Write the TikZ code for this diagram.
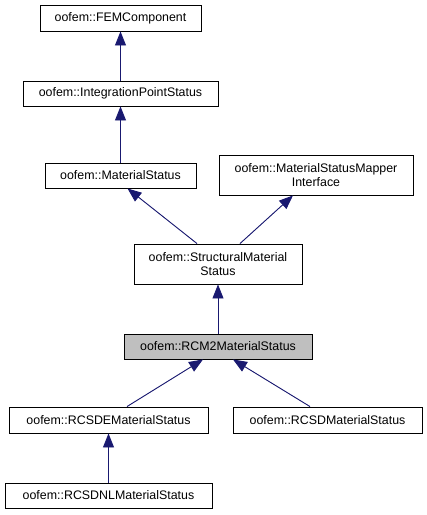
\documentclass[tikz,border=0pt]{standalone}
\usepackage{fontspec}
\setmainfont{Liberation Sans}
\usetikzlibrary{arrows.meta,calc}
\definecolor{edgeblue}{HTML}{191970}
\begin{document}
\begin{tikzpicture}[x=1pt,y=-1pt,
  cls/.style={draw=black,line width=0.9pt,fill=white,inner sep=0pt,align=center,
    font=\fontsize{12.4}{14.5}\selectfont},
  cur/.style={cls,fill=black!25},
  inh/.style={draw=edgeblue,line width=0.9pt,-{Triangle[width=11pt,length=14pt]},fill=edgeblue}]
\useasboundingbox (0,0) rectangle (427,515);
\node[cls,minimum width=161pt,minimum height=26pt] (fem) at (120.5,18) {oofem::FEMComponent};
\node[cls,minimum width=195pt,minimum height=25pt] (ips) at (120.5,93.5) {oofem::IntegrationPointStatus};
\node[cls,minimum width=151pt,minimum height=25pt] (ms) at (120.5,175.5) {oofem::MaterialStatus};
\node[cls,minimum width=194pt,minimum height=40pt] (map) at (316,175) {oofem::MaterialStatusMapper\\Interface};
\node[cls,minimum width=168pt,minimum height=40pt] (sms) at (218,264) {oofem::StructuralMaterial\\Status};
\node[cur,minimum width=188pt,minimum height=25pt] (rcm) at (218,346.5) {oofem::RCM2MaterialStatus};
\node[cls,minimum width=199pt,minimum height=26pt] (rcsde) at (108.5,420) {oofem::RCSDEMaterialStatus};
\node[cls,minimum width=189pt,minimum height=26pt] (rcsd) at (327.5,420) {oofem::RCSDMaterialStatus};
\node[cls,minimum width=207pt,minimum height=25pt] (rcsdnl) at (108.5,495.5) {oofem::RCSDNLMaterialStatus};
\draw[inh] (ips.north) -- (fem.south);
\draw[inh] (ms.north) -- (ips.south);
\draw[inh] ($(sms.north)+(-21,0)$) -- ($(ms.south)+(7,0)$);
\draw[inh] ($(sms.north)+(22,0)$) -- ($(map.south)+(-23,0)$);
\draw[inh] (rcm.north) -- (sms.south);
\draw[inh] ($(rcsde.north)+(18.5,0)$) -- ($(rcm.south)+(-15,0)$);
\draw[inh] ($(rcsd.north)+(-17.5,0)$) -- ($(rcm.south)+(15,0)$);
\draw[inh] (rcsdnl.north) -- (rcsde.south);
\end{tikzpicture}
\end{document}
